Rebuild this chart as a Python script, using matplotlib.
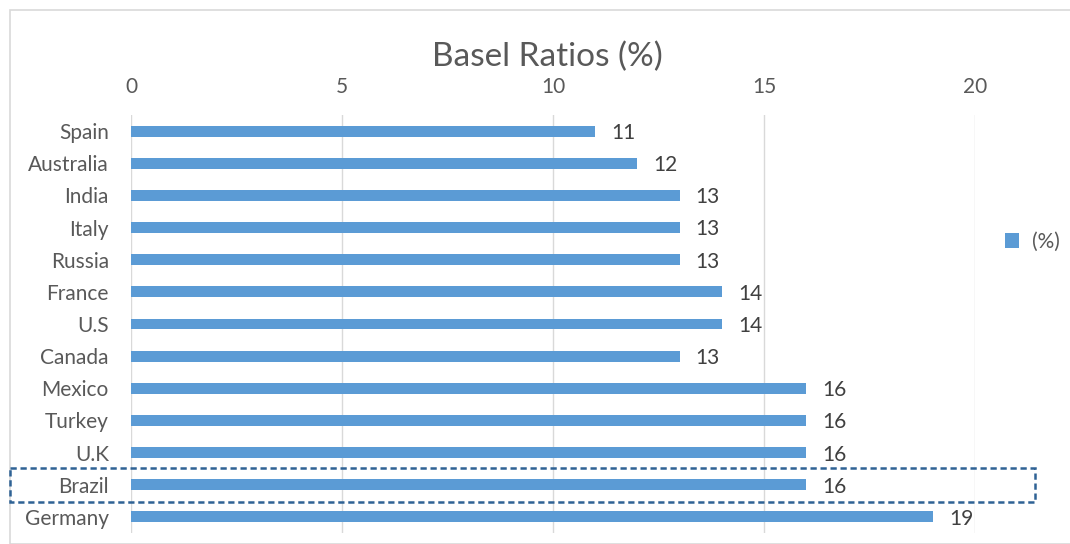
import matplotlib
matplotlib.use("Agg")
import matplotlib.pyplot as plt
from matplotlib.patches import Rectangle
import matplotlib.transforms as mtransforms

countries = ["Spain", "Australia", "India", "Italy", "Russia", "France", "U.S",
             "Canada", "Mexico", "Turkey", "U.K", "Brazil", "Germany"]
values = [11, 12, 13, 13, 13, 14, 14, 13, 16, 16, 16, 16, 19]
xticks = [0, 5, 10, 15, 20]
highlight = "Brazil"

plt.rcParams['font.family'] = ['Lato', 'DejaVu Sans']
text_color = "#595959"
bar_color = "#5B9BD5"
fs = 15

fig = plt.figure(figsize=(10.7, 5.44), dpi=100)
ax = fig.add_axes([131/1070, 1-533/544, (975-131)/1070, (533-115)/544])

y = list(range(len(countries)))
ax.barh(y, values, height=0.34, color=bar_color, label="(%)", zorder=3)
for yi, v in zip(y, values):
    ax.text(v + 0.38, yi + 0.06, f"{v}", va="center", ha="left", fontsize=fs, color="#404040")

ax.set_ylim(len(countries) - 0.5, -0.5)
ax.set_xlim(0, 20)
ax.set_yticks(y)
ax.set_yticklabels(countries, fontsize=fs, color=text_color)
ax.set_xticks(xticks)
ax.set_xticklabels([str(t) for t in xticks], fontsize=fs, color=text_color)
ax.xaxis.tick_top()
ax.tick_params(axis="both", length=0)
ax.tick_params(axis="y", pad=16)
ax.tick_params(axis="x", pad=13)
ax.grid(axis="x", color="#D9D9D9", linewidth=1, zorder=0)
for s in ax.spines.values():
    s.set_visible(False)

fig.text(547/1070, 1-57/544, "Basel Ratios (%)", ha="center", va="center",
         fontsize=24, color=text_color)

leg = fig.legend(loc="center left", bbox_to_anchor=(986/1070, 1-242/544),
                 frameon=False, fontsize=fs, handlelength=0.7, handleheight=0.7,
                 handletextpad=0.6)
for t in leg.get_texts():
    t.set_color(text_color)

# outer chart border
fig.patches.append(Rectangle((10/1070, 0), 1.2, 1-10/544, transform=fig.transFigure,
                             fill=False, edgecolor="#D9D9D9", linewidth=1.2))

# dashed highlight box
hi = countries.index(highlight)
trans = mtransforms.blended_transform_factory(fig.transFigure, ax.transData)
box = Rectangle((10/1070, hi - 0.53), (1035-10)/1070, 1.06, transform=trans,
                fill=False, edgecolor="#2F6295", linewidth=1.8, linestyle=(0, (2.5, 1.5)),
                clip_on=False)
fig.patches.append(box)

fig.savefig("out.png", dpi=100)
